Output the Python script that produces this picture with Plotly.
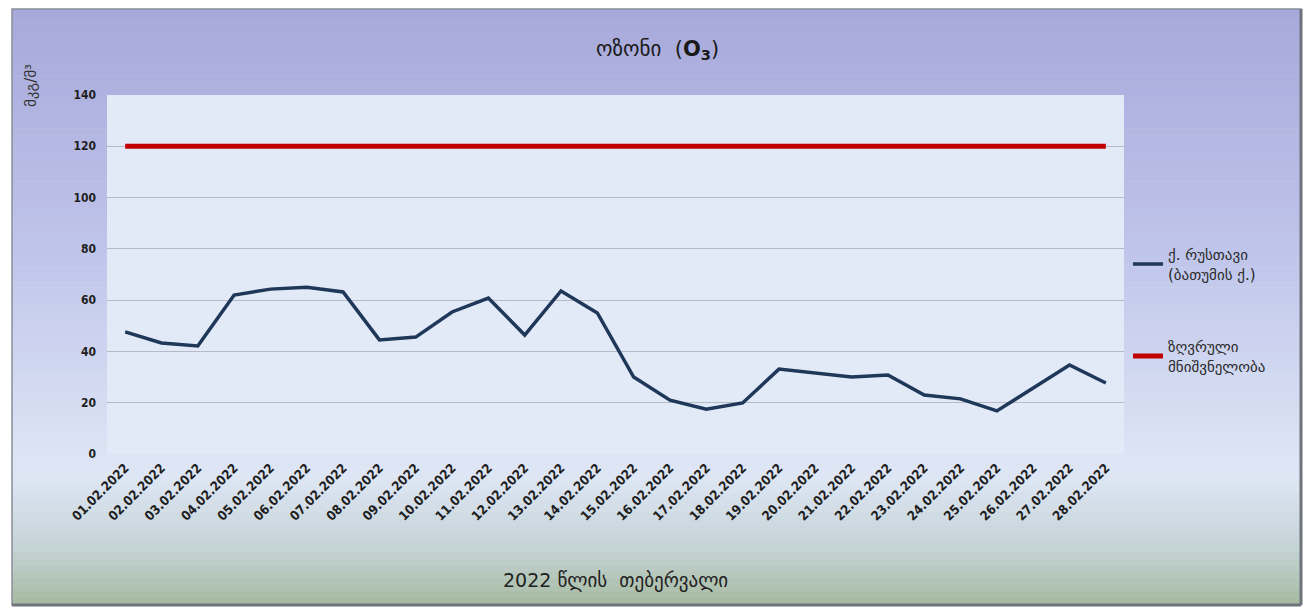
import plotly.graph_objects as go

# ---- data -------------------------------------------------------------
dates = [f"{d:02d}.02.2022" for d in range(1, 29)]
rustavi_o3 = [47.6, 43.3, 42.1, 62.0, 64.3, 65.0, 63.2, 44.5, 45.6, 55.4,
              60.8, 46.4, 63.6, 55.0, 30.0, 21.0, 17.5, 19.9, 33.1, 31.6,
              30.0, 30.8, 23.0, 21.5, 16.8, 25.7, 34.7, 27.7]
limit_value = [120] * len(dates)

series_names = ["ქ. რუსთავი<br>(ბათუმის ქ.)", "ზღვრული<br>მნიშვნელობა"]
y_ticks = [0, 20, 40, 60, 80, 100, 120, 140]

# ---- layout geometry (pixels) -----------------------------------------
W, H = 1311, 615
PL, PR, PT, PB = 107, 1124, 95, 454       # plot area
FL, FR, FT, FB = 12, 1301, 9, 605          # chart frame


def px_to_paper_x(x):
    return (x - PL) / (PR - PL)


def px_to_paper_y(y):
    return (PB - y) / (PB - PT)


def hex_to_rgb(h):
    h = h.lstrip("#")
    return tuple(int(h[i:i + 2], 16) for i in (0, 2, 4))


def lerp_color(stops, t):
    for (t0, c0), (t1, c1) in zip(stops, stops[1:]):
        if t0 <= t <= t1:
            f = (t - t0) / (t1 - t0) if t1 > t0 else 0
            a, b = hex_to_rgb(c0), hex_to_rgb(c1)
            r = [round(a[i] + (b[i] - a[i]) * f) for i in range(3)]
            return f"rgb({r[0]},{r[1]},{r[2]})"
    return stops[-1][1]


# vertical gradient of the chart frame
grad_stops = [(0.0, "#a7a9da"), (0.40, "#bfc4ea"), (0.78, "#dfe7f6"),
              (0.90, "#c6d4d8"), (1.0, "#a6ba9f")]

shapes = []
n_strips = 90
for i in range(n_strips):
    y0 = FT + (FB - FT) * i / n_strips
    y1 = FT + (FB - FT) * (i + 1) / n_strips + 0.6
    shapes.append(dict(
        type="rect", xref="paper", yref="paper", layer="below",
        x0=px_to_paper_x(FL), x1=px_to_paper_x(FR),
        y0=px_to_paper_y(y1), y1=px_to_paper_y(y0),
        line=dict(width=0),
        fillcolor=lerp_color(grad_stops, (i + 0.5) / n_strips),
    ))
# frame border with a darker right/bottom edge
shapes.append(dict(
    type="rect", xref="paper", yref="paper", layer="below",
    x0=px_to_paper_x(FL), x1=px_to_paper_x(FR),
    y0=px_to_paper_y(FB), y1=px_to_paper_y(FT),
    line=dict(color="#8a8f99", width=1.5), fillcolor="rgba(0,0,0,0)",
))
shapes.append(dict(
    type="line", xref="paper", yref="paper", layer="below",
    x0=px_to_paper_x(FR), x1=px_to_paper_x(FR),
    y0=px_to_paper_y(FB), y1=px_to_paper_y(FT),
    line=dict(color="#6e737c", width=3),
))
shapes.append(dict(
    type="line", xref="paper", yref="paper", layer="below",
    x0=px_to_paper_x(FL), x1=px_to_paper_x(FR),
    y0=px_to_paper_y(FB), y1=px_to_paper_y(FB),
    line=dict(color="#6e737c", width=3),
))
# plot background panel
shapes.append(dict(
    type="rect", xref="paper", yref="paper", layer="below",
    x0=0, x1=1, y0=0, y1=1, line=dict(width=0), fillcolor="#e2e9f7",
))

fig = go.Figure()
fig.add_trace(go.Scatter(
    x=dates, y=rustavi_o3, mode="lines", name=series_names[0],
    line=dict(color="#1f3759", width=3.5), legendgroup="a",
))
fig.add_trace(go.Scatter(
    x=dates, y=limit_value, mode="lines", name=series_names[1],
    line=dict(color="#c00000", width=5), legendgroup="b",
))

tick_font = dict(size=12, color="#1e1e1e",
                 family="DejaVu Sans Condensed, DejaVu Sans", weight="bold")

fig.update_layout(
    width=W, height=H,
    margin=dict(l=PL, r=W - PR, t=PT, b=H - PB),
    paper_bgcolor="white",
    plot_bgcolor="rgba(0,0,0,0)",
    font=dict(family="DejaVu Sans, Noto Sans, sans-serif", color="#222222"),
    shapes=shapes,
    showlegend=True,
    legend=dict(
        x=px_to_paper_x(1128), y=px_to_paper_y(238),
        xanchor="left", yanchor="top",
        bgcolor="rgba(0,0,0,0)",
        font=dict(size=15, color="#2a2a2a"),
        traceorder="grouped", tracegroupgap=50,
        itemwidth=30,
    ),
    xaxis=dict(
        type="category", range=[-0.5, len(dates) - 0.5],
        tickangle=-45, showgrid=False, zeroline=False,
        tickfont=dict(tick_font, size=13), ticks="", ticklabelstandoff=3,
    ),
    yaxis=dict(
        range=[0, 140], tickvals=y_ticks,
        showgrid=True, gridcolor="#b5bac4", gridwidth=1,
        zeroline=False, showline=False,
        tickfont=tick_font, ticklabelstandoff=10,
    ),
    annotations=[
        dict(text="ოზონი  (<b>O<sub>3</sub></b>)", xref="paper", yref="paper",
             x=px_to_paper_x(657), y=px_to_paper_y(50), yanchor="middle",
             showarrow=False, font=dict(size=21, color="#1a1a1a")),
        dict(text="მკგ/მ³", xref="paper", yref="paper",
             x=px_to_paper_x(31), y=px_to_paper_y(86), textangle=-90,
             xanchor="center", yanchor="middle",
             showarrow=False, font=dict(size=15, color="#333333")),
        dict(text="2022 წლის  თებერვალი", xref="paper", yref="paper",
             x=0.5, y=px_to_paper_y(580), yanchor="middle",
             showarrow=False, font=dict(size=19, color="#222222")),
    ],
)

fig.write_html("out.html")
